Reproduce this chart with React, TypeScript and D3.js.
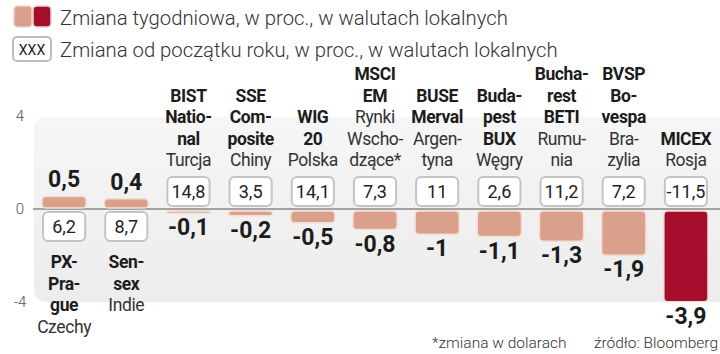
import React from "react"
import * as d3 from "d3"

const indexNames: string[][] = [
  ["PX-", "Pra-", "gue"],
  ["Sen-", "sex"],
  ["BIST", "Natio-", "nal"],
  ["SSE", "Com-", "posite"],
  ["WIG", "20"],
  ["MSCI", "EM"],
  ["BUSE", "Merval"],
  ["Buda-", "pest", "BUX"],
  ["Bucha-", "rest", "BETI"],
  ["BVSP", "Bo-", "vespa"],
  ["MICEX"],
]
const countries: string[][] = [
  ["Czechy"],
  ["Indie"],
  ["Turcja"],
  ["Chiny"],
  ["Polska"],
  ["Rynki", "Wscho-", "dzące*"],
  ["Argen-", "tyna"],
  ["Węgry"],
  ["Rumu-", "nia"],
  ["Bra-", "zylia"],
  ["Rosja"],
]
const weekly = [0.5, 0.4, -0.1, -0.2, -0.5, -0.8, -1, -1.1, -1.3, -1.9, -3.9]
const ytd = [6.2, 8.7, 14.8, 3.5, 14.1, 7.3, 11, 2.6, 11.2, 7.2, -11.5]
const yTicks = [4, 0, -4]

const W = 720
const H = 354
const FONT = "Roboto, 'Noto Sans', sans-serif"
const LIGHT = "#dba08b"
const DARK = "#a50d2c"
const fmt = (v: number) => String(v).replace(".", ",")

export default function App() {
  const x = d3
    .scaleBand<number>()
    .domain(weekly.map((_, i) => i))
    .range([33, 717])
    .paddingInner(0.29)
    .paddingOuter(0.145)
  const y = d3.scaleLinear().domain([-4, 4]).range([302, 116])
  const y0 = y(0)
  const bw = x.bandwidth()
  const lh = 21.5
  const minIdx = weekly.indexOf(d3.min(weekly) as number)

  return (
    <svg width={W} height={H} style={{ position: "absolute", left: 0, top: 0, fontFamily: FONT }}>
      <defs>
        <linearGradient id="panel" x1="0" y1="0" x2="0" y2="1">
          <stop offset="0" stopColor="#f6f6f6" />
          <stop offset="1" stopColor="#ececec" />
        </linearGradient>
      </defs>
      <rect width={W} height={H} fill="#fff" />

      {/* Legend */}
      <rect x={14} y={6} width={18} height={21} rx={4} fill={LIGHT} stroke="#e6d3cb" strokeWidth={1.5} />
      <rect x={33} y={6} width={18} height={21} rx={4} fill={DARK} stroke="#e6d3cb" strokeWidth={1.5} />
      <text x={60} y={24.5} fontSize={20.3} fontWeight={300} fill="#333">
        Zmiana tygodniowa, w proc., w walutach lokalnych
      </text>
      <rect x={13} y={37} width={38} height={24} rx={4} fill="#fff" stroke="#bdbdbd" strokeWidth={2} />
      <text x={32} y={54.5} fontSize={14} textAnchor="middle" fill="#222">XXX</text>
      <text x={60} y={56.5} fontSize={20.3} fontWeight={300} fill="#333">
        Zmiana od początku roku, w proc., w walutach lokalnych
      </text>

      {/* Panel */}
      <rect x={34} y={117} width={700} height={185} rx={12} fill="url(#panel)" />

      {yTicks.map(t => (
        <text key={t} x={20} y={y(t) + 5} fontSize={15} fontWeight={300} textAnchor="middle" fill="#555">
          {t}
        </text>
      ))}
      <line x1={33} x2={W} y1={y0} y2={y0} stroke="#555" strokeWidth={1} />

      {weekly.map((v, i) => {
        const x0 = x(i) as number
        const cx = x0 + bw / 2
        const pos = v >= 0
        const top = pos ? y(v) : y0 + 1
        const h = Math.max(Math.abs(y(v) - y0), 2)
        const boxY = pos ? y0 + 3 : y0 - 32
        const lines = [
          ...indexNames[i].map(t => ({ t, b: true })),
          ...countries[i].map(t => ({ t, b: false })),
        ]
        const firstBase = pos ? boxY + 29 + 27 : y0 - 43 - (lines.length - 1) * lh
        return (
          <g key={i}>
            <rect
              x={x0}
              y={pos ? top - 1 : top + 1}
              width={bw}
              height={h}
              rx={4}
              fill={i === minIdx ? DARK : LIGHT}
              stroke="#f4ddd4"
              strokeWidth={1.5}
            />
            <rect x={x0 + 1} y={boxY} width={bw - 2} height={29} rx={5} fill="#fff" stroke="#c4c4c4" strokeWidth={2} />
            <text x={cx} y={boxY + 21} fontSize={18} textAnchor="middle" fill="#222">
              {fmt(ytd[i])}
            </text>
            <text
              x={cx}
              y={pos ? y(v) - 10 : y(v) + 24}
              fontSize={23}
              fontWeight={700}
              textAnchor="middle"
              fill="#1c1c1c"
            >
              {fmt(v)}
            </text>
            {lines.map((l, j) => (
              <text
                key={j}
                x={cx}
                y={firstBase + j * lh}
                fontSize={17.5}
                fontWeight={l.b ? 700 : 400}
                letterSpacing={-0.4}
                textAnchor="middle"
                fill={l.b ? "#1c1c1c" : "#333"}
              >
                {l.t}
              </text>
            ))}
          </g>
        )
      })}

      <text x={432} y={348} fontSize={15.5} fontWeight={300} fill="#333">*zmiana w dolarach</text>
      <text x={718} y={348} fontSize={15.5} fontWeight={300} textAnchor="end" fill="#333">źródło: Bloomberg</text>
    </svg>
  )
}
